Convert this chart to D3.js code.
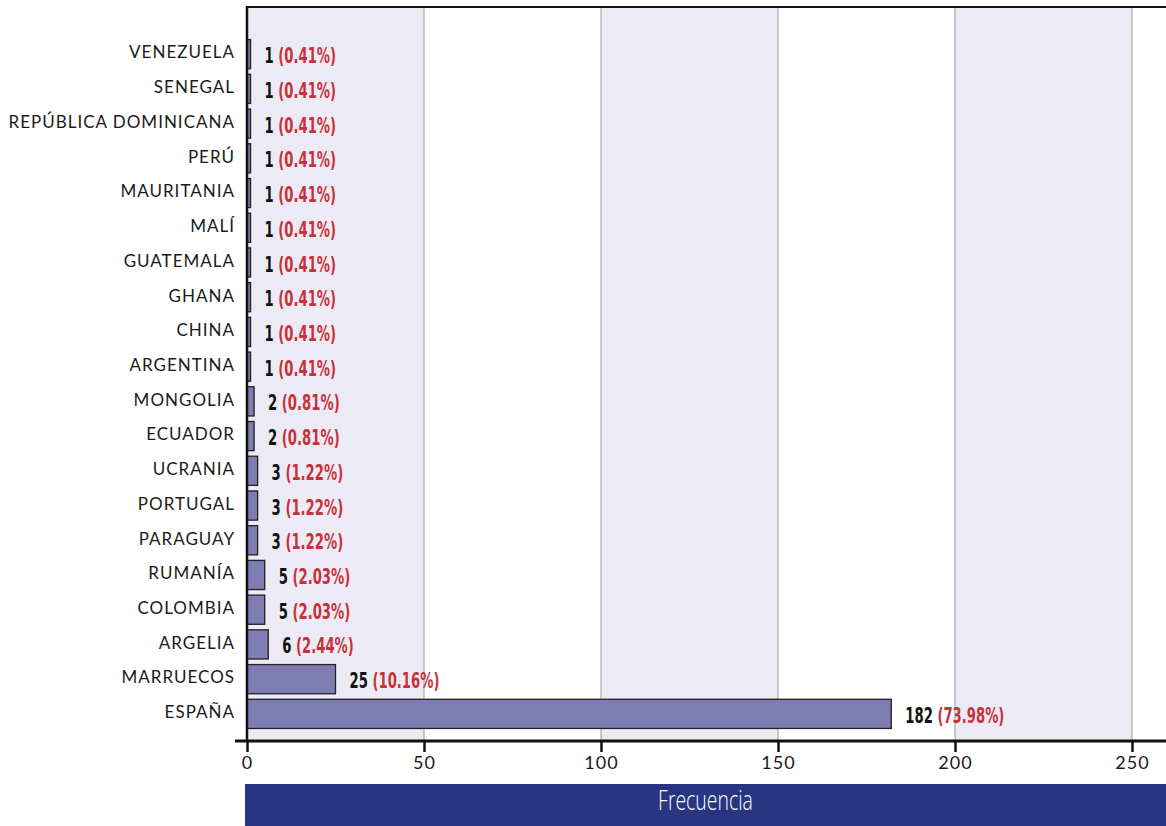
<!DOCTYPE html>
<html>
<head>
<meta charset="utf-8">
<script src="https://cdn.jsdelivr.net/npm/d3@7"></script>
<style>
  body { margin: 0; background: #fff; }
  svg { display: block; }
</style>
</head>
<body>
<div id="chart"></div>
<script>
// categories top to bottom, as in the picture
var paises = ["VENEZUELA", "SENEGAL", "REPÚBLICA DOMINICANA", "PERÚ", "MAURITANIA",
  "MALÍ", "GUATEMALA", "GHANA", "CHINA", "ARGENTINA", "MONGOLIA", "ECUADOR",
  "UCRANIA", "PORTUGAL", "PARAGUAY", "RUMANÍA", "COLOMBIA", "ARGELIA",
  "MARRUECOS", "ESPAÑA"]
var frecuencia = [1, 1, 1, 1, 1, 1, 1, 1, 1, 1, 2, 2, 3, 3, 3, 5, 5, 6, 25, 182]
var porcentaje = ["0.41%", "0.41%", "0.41%", "0.41%", "0.41%", "0.41%", "0.41%",
  "0.41%", "0.41%", "0.41%", "0.81%", "0.81%", "1.22%", "1.22%", "1.22%",
  "2.03%", "2.03%", "2.44%", "10.16%", "73.98%"]
var ticks = [0, 50, 100, 150, 200, 250]
var tituloX = "Frecuencia"

var W = 1166, H = 826
var mIzq = 247, mDer = W, mSup = 8, mInf = 741

var svg = d3.select("#chart").append("svg")
  .attr("width", W)
  .attr("height", H)

var x = d3.scaleLinear().domain([0, 250]).range([mIzq, 1132])
var maxV = x.invert(mDer)
var y = d3.scaleBand().domain(paises).range([34, 734]).padding(0.16)

// alternating background bands
var bandas = d3.range(0, Math.ceil(maxV / 50)).map(function(i){ return [i * 50, Math.min((i + 1) * 50, maxV)] })
svg.append("g").selectAll("rect")
  .data(bandas).enter()
  .append("rect")
  .attr("x", function(d){ return x(d[0]) })
  .attr("y", mSup)
  .attr("width", function(d){ return x(d[1]) - x(d[0]) })
  .attr("height", mInf - mSup)
  .style("fill", function(d, i){ return i % 2 == 0 ? "#ecebf5" : "#ffffff" })

// grid lines
svg.append("g").selectAll("line")
  .data(ticks.slice(1)).enter()
  .append("line")
  .attr("x1", function(d){ return x(d) })
  .attr("x2", function(d){ return x(d) })
  .attr("y1", mSup)
  .attr("y2", mInf)
  .style("stroke", "#9a9a9a")
  .style("stroke-width", 1)

// bars
var datos = paises.map(function(p, i){ return { pais: p, v: frecuencia[i], pct: porcentaje[i] } })
svg.append("g").selectAll("rect")
  .data(datos).enter()
  .append("rect")
  .attr("x", x(0))
  .attr("y", function(d){ return y(d.pais) })
  .attr("width", function(d){ return x(d.v) - x(0) })
  .attr("height", y.bandwidth())
  .style("fill", "#7f7bb3")
  .style("stroke", "#222")
  .style("stroke-width", 1.3)

// value labels (squeezed horizontally to look condensed)
var etiquetas = svg.append("g").selectAll("g")
  .data(datos).enter()
  .append("g")
  .attr("transform", function(d){
    return "translate(" + (x(d.v) + 14) + "," + (y(d.pais) + y.bandwidth() / 2 + 3) + ") scale(0.6,1)"
  })
  .append("text")
  .attr("dominant-baseline", "middle")
  .style("font-family", "'DejaVu Sans', sans-serif")
  .style("font-weight", "bold")
  .style("font-size", "22px")
etiquetas.append("tspan").text(function(d){ return d.v + " " }).style("fill", "#111")
etiquetas.append("tspan").text(function(d){ return "(" + d.pct + ")" }).style("fill", "#c8313a")

// category labels
svg.append("g").selectAll("text")
  .data(paises).enter()
  .append("text")
  .attr("x", 235)
  .attr("y", function(d){ return y(d) + y.bandwidth() / 2 })
  .attr("text-anchor", "end")
  .attr("dominant-baseline", "middle")
  .style("font-family", "Lato, 'Noto Sans', sans-serif")
  .style("font-size", "17px")
  .style("letter-spacing", "1px")
  .style("fill", "#1a1a1a")
  .text(function(d){ return d })

// frame lines
svg.append("line").attr("x1", mIzq).attr("x2", mDer).attr("y1", mSup - 1).attr("y2", mSup - 1)
  .style("stroke", "#111").style("stroke-width", 2)
svg.append("line").attr("x1", mIzq).attr("x2", mIzq).attr("y1", mSup - 2).attr("y2", mInf)
  .style("stroke", "#111").style("stroke-width", 2.5)

// x axis
var ejeX = svg.append("g")
  .attr("transform", "translate(0," + mInf + ")")
  .call(d3.axisBottom(x).tickValues(ticks).tickSize(11).tickPadding(4))
ejeX.select(".domain").remove()
ejeX.selectAll(".tick line").style("stroke", "#111").style("stroke-width", 2.5)
ejeX.selectAll(".tick text")
  .style("font-family", "Lato, 'Noto Sans', sans-serif")
  .style("font-size", "18px")
  .style("letter-spacing", "1px")
  .style("fill", "#1a1a1a")
svg.append("line").attr("x1", 235).attr("x2", mDer).attr("y1", mInf).attr("y2", mInf)
  .style("stroke", "#111").style("stroke-width", 3)

// title banner
svg.append("rect")
  .attr("x", 245).attr("y", 784)
  .attr("width", mDer - 245).attr("height", H - 784)
  .style("fill", "#283583")
svg.append("g")
  .attr("transform", "translate(" + ((245 + mDer) / 2) + ",803) scale(0.72,1)")
  .append("text")
  .attr("text-anchor", "middle")
  .attr("dominant-baseline", "middle")
  .style("font-family", "'Open Sans', sans-serif")
  .style("font-weight", 300)
  .style("font-size", "27px")
  .style("fill", "#ffffff")
  .text(tituloX)
</script>
</body>
</html>
